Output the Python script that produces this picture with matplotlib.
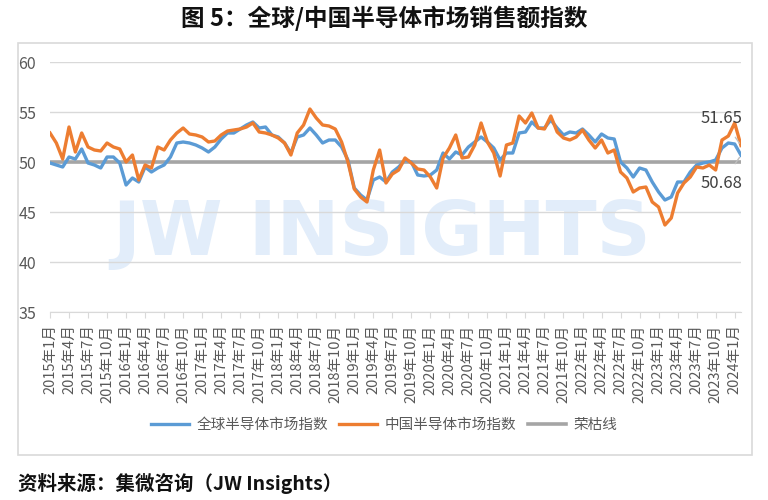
import matplotlib
matplotlib.use('Agg')
import matplotlib.pyplot as plt
from matplotlib.patches import Rectangle
import numpy as np

plt.rcParams['font.family'] = ['Noto Sans CJK SC', 'DejaVu Sans']

# monthly index values, 2015-01 .. 2024-02
global_idx = [
    49.9, 49.7, 49.5, 50.5, 50.3, 51.3, 49.9, 49.7, 49.4, 50.5, 50.5, 49.9,
    47.7, 48.4, 48.0, 49.5, 49.0, 49.4, 49.7, 50.5, 51.9, 52.0, 51.9, 51.7,
    51.4, 51.0, 51.5, 52.3, 52.9, 52.9, 53.3, 53.7, 54.0, 53.4, 53.5, 52.7,
    52.5, 51.9, 50.9, 52.5, 52.7, 53.4, 52.7, 51.9, 52.2, 52.2, 51.5, 50.2,
    47.4, 46.7, 46.2, 48.2, 48.5, 48.0, 49.0, 49.5, 50.2, 50.0, 48.7, 48.6,
    48.7, 49.2, 50.9, 50.3, 51.0, 50.7, 51.5, 52.0, 52.5, 52.0, 51.4, 50.2,
    50.9, 50.9, 52.9, 53.0, 54.0, 53.4, 53.4, 54.2, 53.4, 52.7, 53.0, 52.9,
    53.3, 52.7, 52.0, 52.8, 52.4, 52.3, 50.0, 49.4, 48.5, 49.4, 49.2, 48.0,
    47.0, 46.2, 46.5, 48.0, 48.0, 49.0, 49.7, 49.9, 50.0, 50.2, 51.4, 51.9,
    51.8, 50.68]
china_idx = [
    52.9, 51.9, 50.3, 53.5, 51.0, 52.9, 51.5, 51.2, 51.1, 51.9, 51.5, 51.3,
    50.0, 50.7, 48.2, 49.7, 49.4, 51.5, 51.2, 52.2, 52.9, 53.4, 52.8, 52.7,
    52.5, 52.0, 52.1, 52.7, 53.1, 53.2, 53.3, 53.5, 53.9, 53.0, 52.9, 52.7,
    52.4, 51.9, 50.7, 52.9, 53.7, 55.3, 54.4, 53.7, 53.6, 53.3, 52.0, 50.0,
    47.3, 46.5, 46.0, 49.2, 51.2, 47.9, 48.8, 49.2, 50.4, 49.9, 49.3, 49.2,
    48.5, 47.4, 50.4, 51.4, 52.7, 50.4, 50.5, 51.7, 53.9, 52.0, 50.9, 48.6,
    51.7, 51.9, 54.6, 53.9, 54.9, 53.4, 53.3, 54.6, 53.0, 52.4, 52.2, 52.5,
    53.2, 52.2, 51.4, 52.2, 50.9, 51.2, 49.0, 48.4, 47.0, 47.4, 47.5, 46.0,
    45.5, 43.7, 44.4, 46.9, 47.9, 48.5, 49.5, 49.4, 49.7, 49.2, 52.2, 52.6,
    53.9, 51.65]
boom_bust = 50
start_year, start_month = 2015, 1

n = len(global_idx)
x = np.arange(n)
tick_pos = x[::3]
tick_labels = []
for i in tick_pos:
    y, m = divmod(start_month - 1 + i, 12)
    tick_labels.append(f'{start_year + y}年{m + 1}月')

BLUE, ORANGE, GRAY = '#5B9BD5', '#ED7D31', '#A5A5A5'
TXT = '#595959'

fig = plt.figure(figsize=(7.68, 5.0), dpi=100)
ax = fig.add_axes([50 / 768, 1 - 312 / 500, 691 / 768, 250 / 500])

fig.patches.append(Rectangle((18 / 768, 1 - 455 / 500), 734 / 768, 412 / 500,
                             transform=fig.transFigure, fill=False,
                             edgecolor='#d9d9d9', lw=1.2))

# faint watermark
ax.text(0.48, 0.31, 'JW INSIGHTS', transform=ax.transAxes, ha='center',
        va='center', fontsize=54, fontweight='bold', color='#e2edfa',
        family='DejaVu Sans', zorder=0.5)

ax.plot(x, global_idx, color=BLUE, lw=2.4, label='全球半导体市场指数', zorder=3,
        solid_joinstyle='round')
ax.plot(x, china_idx, color=ORANGE, lw=2.4, label='中国半导体市场指数', zorder=4,
        solid_joinstyle='round')
ax.plot(x, [boom_bust] * n, color=GRAY, lw=2.6, label='荣枯线', zorder=2)

ax.set_xlim(0, n - 1)
ax.set_ylim(35, 60)
ax.set_yticks([35, 40, 45, 50, 55, 60])
ax.grid(axis='y', color='#d9d9d9', lw=1)
ax.set_axisbelow(True)
for s in ['top', 'right', 'left']:
    ax.spines[s].set_visible(False)
ax.spines['bottom'].set_color('#d9d9d9')
ax.set_xticks(tick_pos)
ax.set_xticklabels(tick_labels, rotation=90, fontsize=10.5, color=TXT)
ax.tick_params(axis='x', length=4, color='#d9d9d9', pad=5)
ax.tick_params(axis='y', length=0, labelsize=11.5, labelcolor=TXT, pad=10)

ax.annotate(f'{china_idx[-1]:.2f}', xy=(n - 1, china_idx[-1]), xytext=(106, 54.4),
            ha='center', va='center', fontsize=12, color='#404040',
            arrowprops=dict(arrowstyle='-', color='#bfbfbf', lw=1,
                            shrinkA=7, shrinkB=2),
            annotation_clip=False, zorder=5)
ax.annotate(f'{global_idx[-1]:.2f}', xy=(n - 1, global_idx[-1]), xytext=(106, 47.9),
            ha='center', va='center', fontsize=12, color='#404040',
            arrowprops=dict(arrowstyle='-', color='#bfbfbf', lw=1,
                            shrinkA=7, shrinkB=2),
            annotation_clip=False, zorder=5)

leg = fig.legend(loc='center', bbox_to_anchor=(0.5, 1 - 425 / 500), ncol=3,
                 frameon=False, fontsize=10.5, handlelength=2.6,
                 columnspacing=0.8, handletextpad=0.5)
for t in leg.get_texts():
    t.set_color(TXT)

fig.text(0.5, 1 - 18 / 500, '图 5：全球/中国半导体市场销售额指数', ha='center',
         va='center', fontsize=17, fontweight='bold', color='#111111')
fig.text(18 / 768, 1 - 483 / 500, '资料来源：集微咨询（JW Insights）', ha='left',
         va='center', fontsize=14, fontweight='bold', style='italic',
         color='#111111')

fig.savefig('out.png', dpi=100)
